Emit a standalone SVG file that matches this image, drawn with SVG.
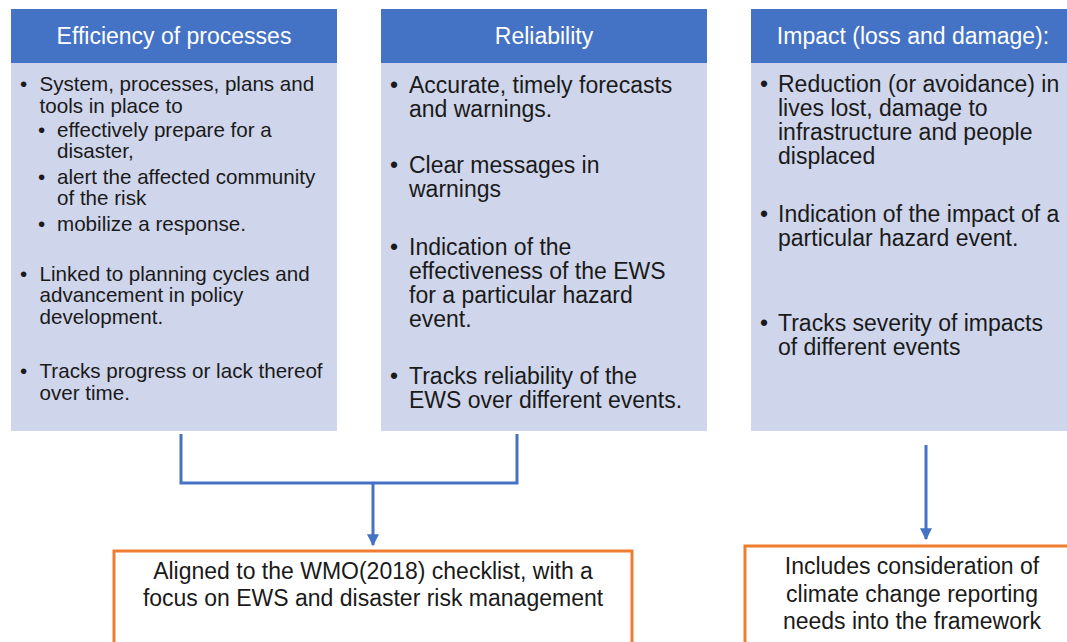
<svg xmlns="http://www.w3.org/2000/svg" width="1067" height="642" viewBox="0 0 1067 642">
<style>
.hdr{fill:#4472C4}
.body{fill:#CFD5EA}
.ht{font-family:"Liberation Sans",Arial,sans-serif;font-size:23px;fill:#ffffff;text-anchor:middle}
.t1{font-family:"Liberation Sans",Arial,sans-serif;font-size:20.6px;fill:#1a1a1a}
.t2{font-family:"Liberation Sans",Arial,sans-serif;font-size:23px;fill:#1a1a1a}
.ot{font-family:"Liberation Sans",Arial,sans-serif;font-size:23px;fill:#1a1a1a;text-anchor:middle}
.obox{fill:#ffffff;stroke:#ED7D31;stroke-width:3}
.conn{fill:none;stroke:#4472C4;stroke-width:3}
</style>
<defs>
<marker id="arr" viewBox="0 0 10 10" refX="9" refY="5" markerWidth="4" markerHeight="4" orient="auto" markerUnits="strokeWidth">
<path d="M0,0 L10,5 L0,10 z" fill="#4472C4"/>
</marker>
</defs>
<rect width="1067" height="642" fill="#ffffff"/>

<g id="efficiency">
<rect class="body" x="11" y="62" width="326" height="369"/>
<rect class="hdr" x="11" y="9" width="326" height="54"/>
<text class="ht" x="174" y="44">Efficiency of processes</text>
<text class="t1" x="20" y="91">•</text>
<text class="t1" x="39.5" y="91">System, processes, plans and</text>
<text class="t1" x="39.5" y="113">tools in place to</text>
<text class="t1" x="38" y="137">•</text>
<text class="t1" x="57" y="137">effectively prepare for a</text>
<text class="t1" x="57" y="158">disaster,</text>
<text class="t1" x="38" y="184">•</text>
<text class="t1" x="57" y="184">alert the affected community</text>
<text class="t1" x="57" y="205">of the risk</text>
<text class="t1" x="38" y="231">•</text>
<text class="t1" x="57" y="231">mobilize a response.</text>
<text class="t1" x="20" y="281">•</text>
<text class="t1" x="39.5" y="281">Linked to planning cycles and</text>
<text class="t1" x="39.5" y="302">advancement in policy</text>
<text class="t1" x="39.5" y="324">development.</text>
<text class="t1" x="20" y="378">•</text>
<text class="t1" x="39.5" y="378">Tracks progress or lack thereof</text>
<text class="t1" x="39.5" y="400">over time.</text>
</g>

<g id="reliability">
<rect class="body" x="381" y="62" width="326" height="369"/>
<rect class="hdr" x="381" y="9" width="326" height="54"/>
<text class="ht" x="544" y="44">Reliability</text>
<text class="t2" x="390" y="93">•</text>
<text class="t2" x="409" y="93">Accurate, timely forecasts</text>
<text class="t2" x="409" y="117">and warnings.</text>
<text class="t2" x="390" y="173">•</text>
<text class="t2" x="409" y="173">Clear messages in</text>
<text class="t2" x="409" y="197">warnings</text>
<text class="t2" x="390" y="255">•</text>
<text class="t2" x="409" y="255">Indication of the</text>
<text class="t2" x="409" y="279">effectiveness of the EWS</text>
<text class="t2" x="409" y="303">for a particular hazard</text>
<text class="t2" x="409" y="327">event.</text>
<text class="t2" x="390" y="384">•</text>
<text class="t2" x="409" y="384">Tracks reliability of the</text>
<text class="t2" x="409" y="408">EWS over different events.</text>
</g>

<g id="impact">
<rect class="body" x="751" y="62" width="320" height="369"/>
<rect class="hdr" x="751" y="9" width="320" height="54"/>
<text class="ht" x="913" y="44">Impact (loss and damage):</text>
<text class="t2" x="760" y="92">•</text>
<text class="t2" x="778" y="92">Reduction (or avoidance) in</text>
<text class="t2" x="778" y="116">lives lost, damage to</text>
<text class="t2" x="778" y="140">infrastructure and people</text>
<text class="t2" x="778" y="164">displaced</text>
<text class="t2" x="760" y="222">•</text>
<text class="t2" x="778" y="222">Indication of the impact of a</text>
<text class="t2" x="778" y="246">particular hazard event.</text>
<text class="t2" x="760" y="331">•</text>
<text class="t2" x="778" y="331">Tracks severity of impacts</text>
<text class="t2" x="778" y="355">of different events</text>
</g>

<g id="wmo">
<rect class="obox" x="114" y="551" width="518" height="110"/>
<text class="ot" x="373" y="579">Aligned to the WMO(2018) checklist, with a</text>
<text class="ot" x="373" y="606">focus on EWS and disaster risk management</text>
</g>

<g id="climate">
<rect class="obox" x="745" y="546" width="340" height="110"/>
<text class="ot" x="912" y="574">Includes consideration of</text>
<text class="ot" x="912" y="602">climate change reporting</text>
<text class="ot" x="912" y="629">needs into the framework</text>
</g>

<g id="connectors">
<polyline class="conn" points="181,434 181,483 517,483 517,434"/>
<line class="conn" x1="373" y1="483" x2="373" y2="545" marker-end="url(#arr)"/>
<line class="conn" x1="926" y1="445" x2="926" y2="539" marker-end="url(#arr)"/>
</g>
</svg>
